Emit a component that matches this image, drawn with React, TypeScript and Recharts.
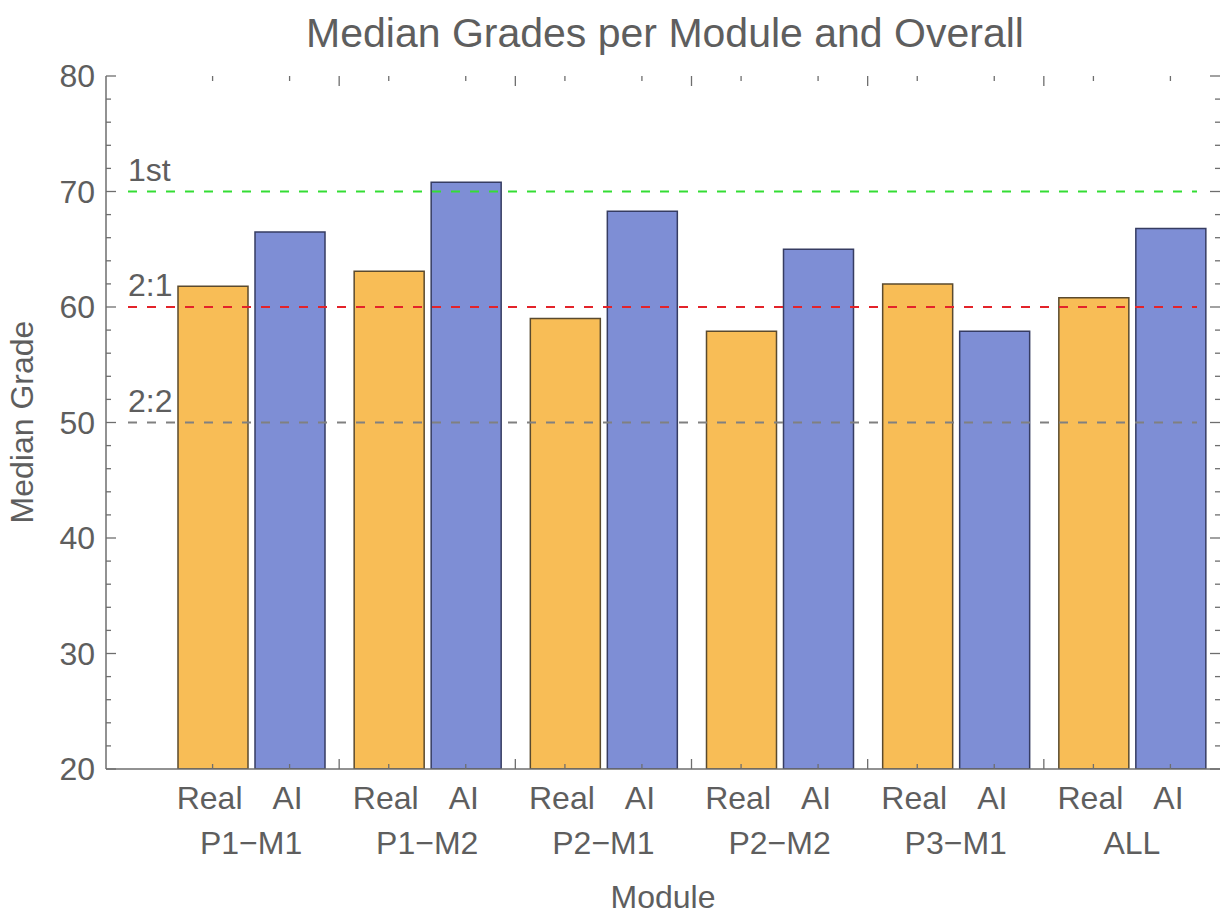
import { BarChart, Bar, XAxis, YAxis, ReferenceLine } from 'recharts';

const modules = ['P1\u2212M1', 'P1\u2212M2', 'P2\u2212M1', 'P2\u2212M2', 'P3\u2212M1', 'ALL'];
const realMedians = [61.8, 63.1, 59.0, 57.9, 62.0, 60.8];
const aiMedians = [66.5, 70.8, 68.3, 65.0, 57.9, 66.8];
const yTicks = [20, 22, 24, 26, 28, 30, 32, 34, 36, 38, 40, 42, 44, 46, 48, 50, 52, 54, 56, 58, 60, 62, 64, 66, 68, 70, 72, 74, 76, 78, 80];
const gradeBands = [
  { label: '1st', value: 70, color: '#34dd34' },
  { label: '2:1', value: 60, color: '#e3232a' },
  { label: '2:2', value: 50, color: '#808080' },
];

const data = modules.map((m, i) => ({ module: m, real: realMedians[i], ai: aiMedians[i] }));

// layout
const W = 1225;
const H = 915;
const TOP = 76;
const Y_AXIS_W = 106;
const X_AXIS_H = 146;
const RIGHT = 5;
const PLOT_RIGHT = W - RIGHT;
const PAD_LEFT = 57;
const HALF_BAND = (W - RIGHT - Y_AXIS_W - PAD_LEFT) / modules.length / 2;
const BAR_SIZE = 70;
const BAR_GAP = 7;
const BAR_OFF = (BAR_SIZE + BAR_GAP) / 2;

const FONT = '"Liberation Sans", Arial, Helvetica, sans-serif';
const TEXT = '#5e5e5e';
const FRAME = '#6e6e6e';
const frameLine = { stroke: FRAME, strokeWidth: 1.5 };

function YTick(props: any) {
  const { x, y, payload } = props;
  const major = payload.value % 10 === 0;
  const len = major ? 10 : 5;
  return (
    <g>
      <line x1={x} x2={x + len} y1={y} y2={y} stroke={FRAME} strokeWidth={1.3} />
      <line x1={PLOT_RIGHT} x2={PLOT_RIGHT - len} y1={y} y2={y} stroke={FRAME} strokeWidth={1.3} />
      {major && (
        <text x={x - 11} y={y} dy="0.35em" textAnchor="end" fontSize={32} fill={TEXT} fontFamily={FONT}>
          {payload.value}
        </text>
      )}
    </g>
  );
}

function XTick(props: any) {
  const { x, y, payload, index } = props;
  const last = index === modules.length - 1;
  const marks = [x - BAR_OFF, x + BAR_OFF];
  return (
    <g>
      {marks.map((mx, i) => (
        <g key={i}>
          <line x1={mx} x2={mx} y1={y} y2={y - 5} stroke={FRAME} strokeWidth={1.3} />
          <line x1={mx} x2={mx} y1={TOP} y2={TOP + 5} stroke={FRAME} strokeWidth={1.3} />
        </g>
      ))}
      {!last && (
        <g>
          <line x1={x + HALF_BAND} x2={x + HALF_BAND} y1={y} y2={y - 10} stroke={FRAME} strokeWidth={1.3} />
          <line x1={x + HALF_BAND} x2={x + HALF_BAND} y1={TOP} y2={TOP + 10} stroke={FRAME} strokeWidth={1.3} />
        </g>
      )}
      <text x={x - BAR_OFF - 3} y={y + 40} textAnchor="middle" fontSize={32} fill={TEXT} fontFamily={FONT}>
        Real
      </text>
      <text x={x + BAR_OFF - 2} y={y + 40} textAnchor="middle" fontSize={32} fill={TEXT} fontFamily={FONT}>
        AI
      </text>
      <text x={x} y={y + 85} textAnchor="middle" fontSize={32} fill={TEXT} fontFamily={FONT}>
        {payload.value}
      </text>
    </g>
  );
}

function bandLine(label: string, color: string) {
  return (props: any) => {
    const { x1, x2, y1 } = props;
    const start = x1 + 22;
    const end = x2 - 23;
    return (
      <g>
        <line x1={start} x2={end} y1={y1} y2={y1} stroke={color} strokeWidth={2} strokeDasharray="9 10" />
        <text x={start} y={y1 - 11} fontSize={32} fill={TEXT} fontFamily={FONT}>
          {label}
        </text>
      </g>
    );
  };
}

export default function App() {
  return (
    <div style={{ position: 'absolute', left: 0, top: 0, width: W, height: H, background: '#fff' }}>
      <BarChart
        width={W}
        height={H}
        data={data}
        margin={{ top: TOP, right: RIGHT, bottom: 0, left: 0 }}
        barSize={BAR_SIZE}
        barGap={BAR_GAP}
      >
        <XAxis
          dataKey="module"
          height={X_AXIS_H}
          padding={{ left: PAD_LEFT, right: 0 }}
          axisLine={frameLine}
          tickLine={false}
          tickSize={0}
          tickMargin={0}
          interval={0}
          tick={<XTick />}
        />
        <XAxis
          xAxisId="top"
          orientation="top"
          dataKey="module"
          height={0}
          padding={{ left: PAD_LEFT, right: 0 }}
          axisLine={frameLine}
          tickLine={false}
          tick={false}
        />
        <YAxis
          width={Y_AXIS_W}
          domain={[20, 80]}
          ticks={yTicks}
          interval={0}
          allowDataOverflow
          axisLine={frameLine}
          tickLine={false}
          tickSize={0}
          tickMargin={0}
          tick={<YTick />}
        />
        <YAxis
          yAxisId="right"
          orientation="right"
          width={0}
          domain={[20, 80]}
          axisLine={frameLine}
          tickLine={false}
          tick={false}
        />
        <Bar dataKey="real" fill="#f8bd56" stroke="#5a4a2e" strokeWidth={1.5} isAnimationActive={false} />
        <Bar dataKey="ai" fill="#7e8ed5" stroke="#363c62" strokeWidth={1.5} isAnimationActive={false} />
        {gradeBands.map((b) => (
          <ReferenceLine key={b.label} y={b.value} shape={bandLine(b.label, b.color)} />
        ))}
        <text x={665} y={47} textAnchor="middle" fontSize={41} fill={TEXT} fontFamily={FONT}>
          Median Grades per Module and Overall
        </text>
        <text x={663} y={908} textAnchor="middle" fontSize={32} fill={TEXT} fontFamily={FONT}>
          Module
        </text>
        <text
          x={33}
          y={422}
          textAnchor="middle"
          fontSize={32}
          fill={TEXT}
          fontFamily={FONT}
          transform="rotate(-90, 33, 422)"
        >
          Median Grade
        </text>
      </BarChart>
    </div>
  );
}
